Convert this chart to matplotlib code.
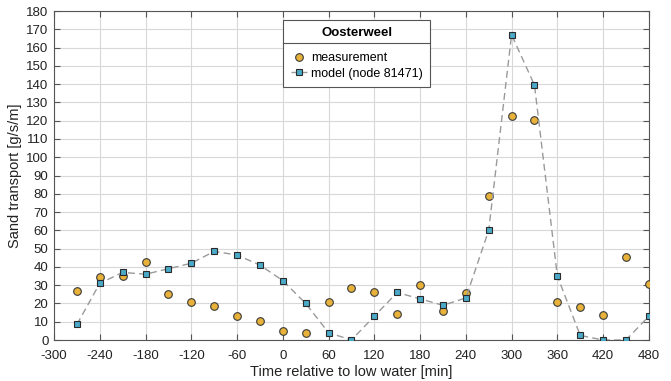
import numpy as np
import matplotlib
matplotlib.use("Agg")
import matplotlib.pyplot as plt
from matplotlib.lines import Line2D

plt.rcParams['font.family'] = ['Liberation Sans', 'DejaVu Sans']
plt.rcParams['axes.unicode_minus'] = False

tijd = list(range(-270, 481, 30))
meting = [27, 34.5, 35, 42.5, 25, 21, 18.5, 13, 10.5, 5, 4, 21, 28.5, 26, 14.5,
          30, 16, 25.5, 79, 122.5, 120.5, 21, 18, 13.5, 45.5, 30.5]
model = [8.5, 31, 37, 36, 39, 42, 48.5, 46.5, 41, 32.5, 20, 4, 0, 13, 26,
         22.5, 19, 23, 60, 167, 139.5, 35, 2.5, 0, 0, 13]

fig = plt.figure(figsize=(6.71, 3.81), dpi=100)
ax = fig.add_axes([0.0805, 0.1076, 0.8865, 0.8634])

ax.plot(tijd, meting, 'o', ms=5.5, mfc='#E8B23A', mec='#3a3a3a', mew=0.8,
        label='measurement', zorder=3)
ax.plot(tijd, model, '--s', color='#9a9a9a', lw=1, ms=4.5, mfc='#4AAAC8',
        mec='#2a2a2a', mew=0.8, label='model (node 81471)', zorder=3,
        dashes=(5, 3))

ax.set_xlim(-300, 480)
ax.set_ylim(0, 180)
ax.set_xticks(np.arange(-300, 481, 60))
ax.set_yticks(np.arange(0, 181, 10))
ax.grid(True, color='#d8d8d8', lw=0.8)
ax.set_axisbelow(True)
ax.tick_params(direction='in', top=True, right=True, labelsize=9.5,
               colors='#555555', length=4, labelcolor='#222222')
ax.tick_params(axis='x', pad=7)
ax.tick_params(axis='y', pad=4)
for s in ax.spines.values():
    s.set_color('#555555')
    s.set_linewidth(0.8)

ax.set_xlabel('Time relative to low water [min]', fontsize=10.5, color='#222222',
              labelpad=2)
ax.set_ylabel('Sand transport [g/s/m]', fontsize=10.5, color='#222222',
              labelpad=3)

leg = ax.legend(title='Oosterweel', loc='upper left',
                bbox_to_anchor=(0.385, 0.973), fontsize=9, fancybox=False,
                framealpha=1, edgecolor='#555555', handlelength=1.3,
                borderpad=0.6, labelspacing=0.3, handletextpad=0.35,
                borderaxespad=0)
leg.get_title().set_fontweight('bold')
leg.get_title().set_fontsize(9.5)
leg.get_frame().set_linewidth(0.8)
leg._legend_box.sep = 9

fig.canvas.draw()
r = fig.canvas.get_renderer()
lb = leg.get_window_extent(r)
tb = leg.get_title().get_window_extent(r)
yl = (tb.y0 - 4) / fig.bbox.height
fig.add_artist(Line2D([lb.x0 / fig.bbox.width, lb.x1 / fig.bbox.width], [yl, yl],
                      color='#555555', lw=0.8, zorder=10))

fig.savefig('out.png', dpi=100)
